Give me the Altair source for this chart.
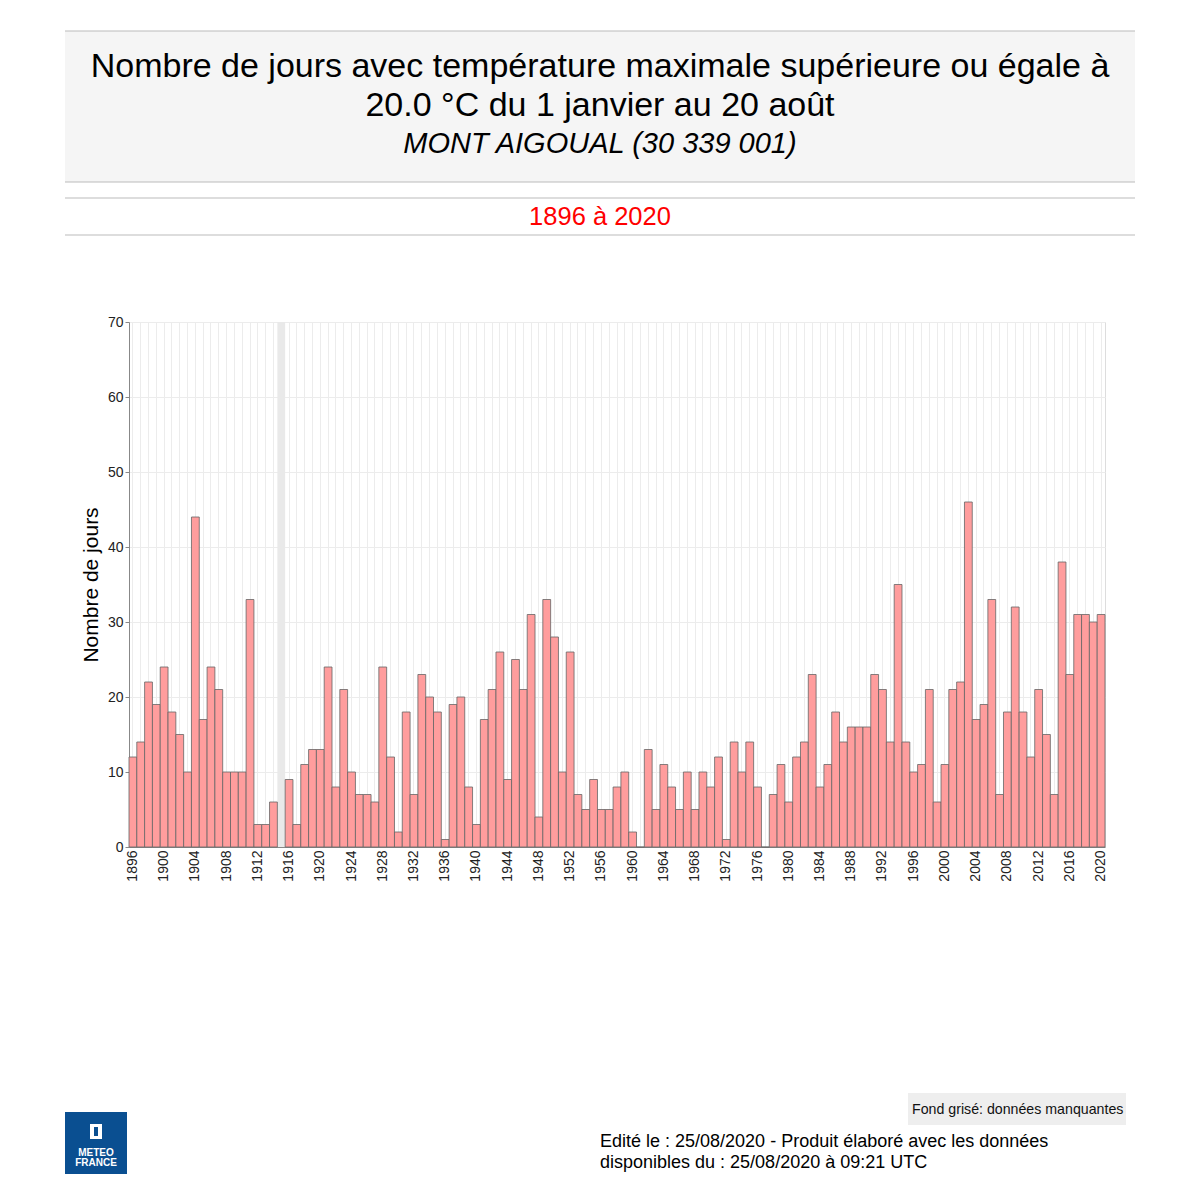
import altair as alt
import pandas as pd

FONT = "Liberation Sans"

years = list(range(1896, 2021))
values = [
    12, 14, 22, 19, 24, 18, 15, 10, 44, 17,   # 1896-1905
    24, 21, 10, 10, 10, 33, 3, 3, 6, None,    # 1906-1915
    9, 3, 11, 13, 13, 24, 8, 21, 10, 7,       # 1916-1925
    7, 6, 24, 12, 2, 18, 7, 23, 20, 18,       # 1926-1935
    1, 19, 20, 8, 3, 17, 21, 26, 9, 25,       # 1936-1945
    21, 31, 4, 33, 28, 10, 26, 7, 5, 9,       # 1946-1955
    5, 5, 8, 10, 2, 0, 13, 5, 11, 8,          # 1956-1965
    5, 10, 5, 10, 8, 12, 1, 14, 10, 14,       # 1966-1975
    8, 0, 7, 11, 6, 12, 14, 23, 8, 11,        # 1976-1985
    18, 14, 16, 16, 16, 23, 21, 14, 35, 14,   # 1986-1995
    10, 11, 21, 6, 11, 21, 22, 46, 17, 19,    # 1996-2005
    33, 7, 18, 32, 18, 12, 21, 15, 7, 38,     # 2006-2015
    23, 31, 31, 30, 31,                       # 2016-2020
]
missing_years = [1915]

title_lines = [
    "Nombre de jours avec température maximale supérieure ou égale à",
    "20.0 °C du 1 janvier au 20 août",
]
station = "MONT AIGOUAL (30 339 001)"
period = "1896 à 2020"
y_title = "Nombre de jours"
legend_note = "Fond grisé: données manquantes"
footer_lines = [
    "Edité le : 25/08/2020 - Produit élaboré avec les données",
    "disponibles du : 25/08/2020 à 09:21 UTC",
]

df = pd.DataFrame({"year": years, "value": values})
df_missing = pd.DataFrame({"year": missing_years, "top": [70] * len(missing_years), "bottom": [0] * len(missing_years)})

x_enc = alt.X(
    "year:O",
    scale=alt.Scale(domain=years, paddingInner=0, paddingOuter=0),
    axis=alt.Axis(
        title=None,
        labelAngle=-90,
        labelFontSize=14,
        labelFont=FONT,
        labelColor="#222",
        labelPadding=3,
        labelExpr="datum.value % 4 == 0 ? datum.label : ''",
        ticks=False,
        grid=True,
        gridColor="#ececec",
        domainColor="#888",
    ),
)

missing_layer = alt.Chart(df_missing).mark_bar(color="#e9e9e9").encode(
    x=x_enc,
    y=alt.Y("top:Q"),
    y2="bottom:Q",
)

bars = alt.Chart(df).mark_bar(fill="#ff9d9d", stroke="#666666", strokeWidth=0.8).encode(
    x=x_enc,
    y=alt.Y(
        "value:Q",
        scale=alt.Scale(domain=[0, 70]),
        axis=alt.Axis(
            title=y_title,
            titleFont=FONT,
            titleFontSize=21,
            titleFontWeight="normal",
            titleColor="#000",
            titlePadding=6,
            values=[0, 10, 20, 30, 40, 50, 60, 70],
            labelFont=FONT,
            labelFontSize=14,
            labelColor="#222",
            tickColor="#888",
            tickSize=4,
            gridColor="#ececec",
            domainColor="#888",
        ),
    ),
)

one = pd.DataFrame({"k": [0]})

def rect(x1, x2, y1, y2, fill, stroke=None):
    kw = dict(fill=fill)
    if stroke:
        kw.update(stroke=stroke, strokeWidth=1)
    return alt.Chart(one).mark_rect(**kw).encode(
        x=alt.value(x1), x2=alt.value(x2), y=alt.value(y1), y2=alt.value(y2)
    )

def hline(x1, x2, y, color="#bbbbbb"):
    return alt.Chart(one).mark_rule(color=color, strokeWidth=1.2).encode(
        x=alt.value(x1), x2=alt.value(x2), y=alt.value(y)
    )

def text(s, x, y, size, align="center", color="#000", style="normal", weight="normal"):
    return alt.Chart(one).mark_text(
        text=s, fontSize=size, font=FONT, align=align, baseline="alphabetic",
        color=color, fontStyle=style, fontWeight=weight,
    ).encode(x=alt.value(x), y=alt.value(y))

deco = [
    rect(-64, 1006, -291, -140, "#f5f5f5"),
    hline(-64, 1006, -291),
    hline(-64, 1006, -140),
    hline(-64, 1006, -124),
    hline(-64, 1006, -87),
    text(title_lines[0], 471, -245, 34),
    text(title_lines[1], 471, -206, 34),
    text(station, 471, -169, 29, style="italic"),
    text(period, 471, -97, 25.5, color="#ff0000"),
    rect(779, 997, 771, 803, "#eeeeee"),
    text(legend_note, 783, 792, 14.2, align="left", color="#111"),
    text(footer_lines[0], 471, 825, 18, align="left"),
    text(footer_lines[1], 471, 846, 18, align="left"),
    rect(-64, -2, 790, 852, "#0a4f91"),
    rect(-39, -27, 802, 817, "#ffffff"),
    rect(-35, -31, 805, 814, "#0a4f91"),
    text("METEO", -33, 834, 10, color="#ffffff", weight="bold"),
    text("FRANCE", -33, 844, 10, color="#ffffff", weight="bold"),
]

chart = alt.layer(missing_layer, bars, *deco).properties(
    width=976,
    height=525,
    autosize=alt.AutoSizeParams(type="none"),
    padding={"left": 121, "top": 314, "right": 87, "bottom": 345},
).configure_view(stroke="#888888").configure(background="#ffffff")

chart.save("out.html", embed_options={"renderer": "svg", "actions": False})
